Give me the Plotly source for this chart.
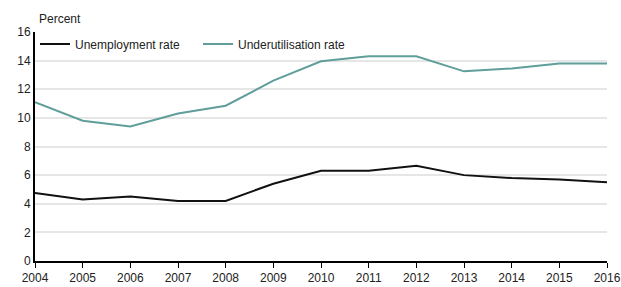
import plotly.graph_objects as go

years = list(range(2004, 2017))
unemployment = [4.75, 4.3, 4.5, 4.2, 4.2, 5.4, 6.3, 6.3, 6.65, 6.0, 5.8, 5.7, 5.5]
underutilisation = [11.1, 9.8, 9.4, 10.3, 10.85, 12.6, 13.95, 14.3, 14.3, 13.25, 13.45, 13.8, 13.8]
y_ticks = [0, 2, 4, 6, 8, 10, 12, 14, 16]

FONT = "Liberation Sans, Arial, sans-serif"
L, R, T, B = 35, 14, 32, 26
W, H = 621, 287
PH = H - T - B
PW = W - L - R

fig = go.Figure()
fig.add_trace(go.Scatter(x=years, y=unemployment, mode="lines", name="Unemployment rate",
                         line=dict(color="#111111", width=2)))
fig.add_trace(go.Scatter(x=years, y=underutilisation, mode="lines", name="Underutilisation rate",
                         line=dict(color="#5f9e9a", width=2)))

fig.update_layout(
    width=W, height=H,
    margin=dict(l=L, r=R, t=T, b=B, autoexpand=False),
    paper_bgcolor="white", plot_bgcolor="white",
    font=dict(family=FONT, size=12, color="#222222"),
    showlegend=True,
    legend=dict(orientation="h", x=0, y=1 - 12 / PH, xanchor="left", yanchor="middle",
                bgcolor="rgba(0,0,0,0)", font=dict(size=12),
                entrywidth=118, entrywidthmode="pixels", tracegroupgap=0),
    annotations=[dict(text="Percent", xref="paper", yref="paper", x=2 / PW, y=1 + 13 / PH,
                      xanchor="left", yanchor="middle", showarrow=False,
                      font=dict(size=12, family=FONT))],
)
fig.update_xaxes(range=[2004, 2016], tickvals=years, ticks="outside", ticklen=5,
                 tickcolor="black", showline=True, linecolor="black", linewidth=2,
                 showgrid=False, zeroline=False, tickfont=dict(size=12), automargin=False)
fig.update_yaxes(range=[0, 16], tickvals=y_ticks, showline=True, linecolor="black",
                 linewidth=2, showgrid=True, gridcolor="#e6e6e6", gridwidth=1.5,
                 zeroline=False, ticks="", tickfont=dict(size=12), automargin=False)

fig.write_html("out.html", config={"displayModeBar": False},
               post_script="document.body.style.margin='0';document.body.style.overflow='hidden';")
